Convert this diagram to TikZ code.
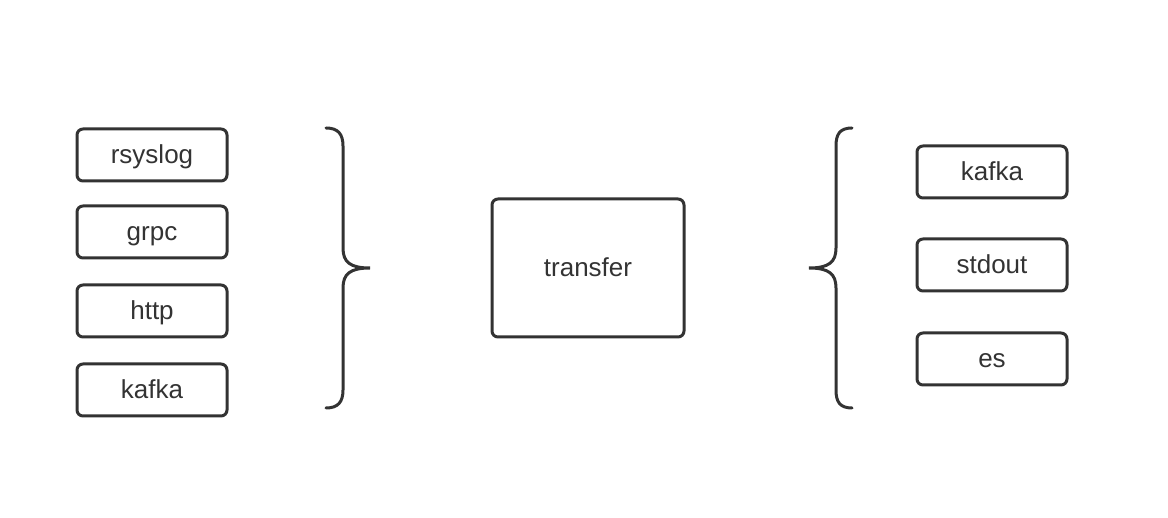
\documentclass[tikz,border=0pt]{standalone}
\usepackage{fontspec}
\setmainfont{Liberation Sans}
\definecolor{ink}{HTML}{333333}
\tikzset{
  srcbox/.style={draw=ink, line width=3pt, rounded corners=6pt, minimum width=150pt,
    minimum height=52pt, inner sep=0pt, text height=17pt, text depth=0pt, text=ink,
    font=\fontsize{26}{30}\selectfont},
  bigbox/.style={srcbox, minimum width=192pt, minimum height=138pt},
  bracket/.style={draw=ink, line width=3pt, line cap=round}
}
\begin{document}
\begin{tikzpicture}[x=1pt, y=-1pt]
            % Frame
            \useasboundingbox (0,0) rectangle (1168,518);

            % Inputs
            \node [srcbox] (rsyslog) at (152,155) {rsyslog};
            \node [srcbox] (grpc) at (152,232) {grpc};
            \node [srcbox] (http) at (152,311) {http};
            \node [srcbox] (kafkain) at (152,390) {kafka};

            % Transfer
            \node [bigbox] (transfer) at (588,268) {transfer};

            % Outputs
            \node [srcbox] (kafkaout) at (992,172) {kafka};
            \node [srcbox] (stdout) at (992,265) {stdout};
            \node [srcbox] (es) at (992,359) {es};

            % Braces
            \draw [bracket] (326,128) .. controls (338,128) and (343,134) .. (343,146)
                -- (343,248) .. controls (343,262) and (350,268) .. (370,268)
                .. controls (350,268) and (343,274) .. (343,288)
                -- (343,390) .. controls (343,402) and (338,408) .. (326,408);
            \draw [bracket] (852,128) .. controls (840,128) and (836,134) .. (836,146)
                -- (836,248) .. controls (836,262) and (829,268) .. (809,268)
                .. controls (829,268) and (836,274) .. (836,288)
                -- (836,390) .. controls (836,402) and (840,408) .. (852,408);
        \end{tikzpicture}
\end{document}
